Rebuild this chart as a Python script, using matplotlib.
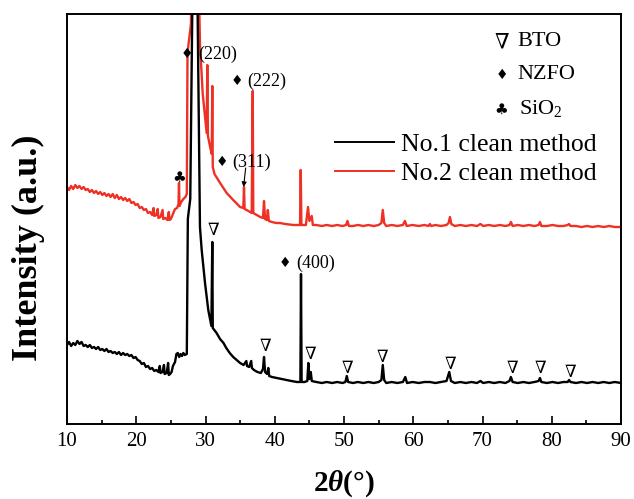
import matplotlib
matplotlib.use("Agg")
import matplotlib.pyplot as plt

# ---------------- data ----------------
no1_x = [10.0, 10.3, 10.6, 10.9, 11.2, 11.5, 11.8, 12.1, 12.4, 12.7, 13.0, 13.3, 13.6, 13.9, 14.2,
         14.5, 14.8, 15.1, 15.4, 15.7, 16.0, 16.3, 16.6, 16.9, 17.2, 17.5, 17.8, 18.1, 18.4, 18.7,
         19.0, 19.3, 19.6, 19.9, 20.2, 20.5, 20.8, 21.1, 21.4, 21.7, 22.0, 22.3, 22.6, 22.9, 23.2,
         23.4, 23.5, 23.8, 24.0, 24.1, 24.4, 24.6, 24.7, 24.9, 25.1, 25.3, 25.6, 25.8, 26.0, 26.2,
         26.4, 26.6, 26.8, 27.0, 27.3,
         27.45, 27.55, 27.8, 28.1, 28.5, 28.85, 29.2, 29.45, 29.93, 30.4, 30.85, 30.98, 31.05,
         31.6, 32.1, 32.6, 33.0, 33.5, 34.0, 34.5, 35.0, 35.5, 35.9, 36.0, 36.3, 36.6, 36.7, 37.0,
         37.5, 38.0, 38.3, 38.45, 38.6, 38.9, 39.07, 39.2, 39.6, 40.3, 41.0, 41.7, 42.4, 43.2,
         43.7, 43.79, 43.88, 44.3, 44.7, 44.85, 45.0, 45.2, 45.35,
         46.0, 46.8, 47.5, 48.3, 49.0, 49.8, 50.2, 50.4, 50.6, 51.3, 52.0, 52.8, 53.5, 54.3, 55.0,
         55.4, 55.6, 55.8, 56.1, 56.9, 57.7, 58.5, 58.85, 59.1, 59.9, 60.8, 61.6, 62.4, 63.2, 64.0,
         64.8, 65.2, 65.45, 66.0, 66.8, 67.6, 68.4, 69.2, 69.7, 70.1, 70.9, 71.7, 72.5, 73.3, 73.9,
         74.1, 74.35, 75.1, 75.9, 76.7, 77.5, 78.1, 78.3, 78.5, 79.3, 80.1, 80.9, 81.7, 82.3, 82.5,
         82.7, 83.5, 84.3, 85.1, 85.9, 86.7, 87.5, 88.3, 89.1, 90.0]
no1_y = [79, 82, 78, 81, 79, 83, 80, 82, 78, 79, 77, 79, 76, 77, 75,
         77, 74, 75, 73, 75, 72, 73, 71, 72, 70, 72, 69, 71, 69, 70,
         68, 69, 66, 67, 64, 63, 60, 61, 57, 58, 55, 56, 53, 54, 52,
         58, 51, 52, 59, 50, 51, 61, 49, 50, 52, 58, 62, 70, 71, 67,
         70, 68, 71, 69, 70,
         205, 211, 225, 420, 700, 420, 197, 174, 141, 114, 98, 182, 96,
         91, 85, 81, 76, 71, 67, 64, 61, 59, 63, 58, 57, 63, 56, 54,
         52, 51, 55, 67, 52, 50, 56, 48, 47, 46, 45, 44, 43, 42,
         42, 150, 42, 42, 43, 61, 45, 52, 43,
         42, 41, 42, 41, 42, 41, 42, 48, 42, 41, 42, 41, 42, 41, 42,
         44, 59, 44, 41, 42, 41, 42, 47, 41, 42, 41, 42, 42, 41, 42,
         43, 52, 43, 41, 42, 41, 42, 41, 43, 41, 42, 41, 42, 41, 43,
         47, 42, 41, 42, 41, 42, 43, 46, 42, 41, 42, 41, 42, 42, 44,
         42, 41, 42, 41, 42, 41, 42, 41, 42, 41]

no2_x = [10.0, 10.3, 10.6, 10.9, 11.2, 11.5, 11.8, 12.1, 12.4, 12.7, 13.0, 13.3, 13.6, 13.9, 14.2,
         14.5, 14.8, 15.1, 15.4, 15.7, 16.0, 16.3, 16.6, 16.9, 17.2, 17.5, 17.8, 18.1, 18.4, 18.7,
         19.0, 19.3, 19.6, 19.9, 20.2, 20.5, 20.8, 21.1, 21.4, 21.7, 22.0, 22.3, 22.5, 22.6, 22.9,
         23.1, 23.2, 23.5, 23.8, 23.9, 24.2, 24.5, 24.7, 24.8, 25.0, 25.3, 25.6, 25.9, 26.1, 26.17,
         26.25, 26.5, 26.8, 27.1, 27.3,
         27.4, 27.55, 27.9, 28.15, 28.5, 28.87, 29.2, 29.6, 30.17, 30.26, 30.35, 30.7, 30.9, 30.98,
         31.05, 31.3, 32.2, 33.06, 34.0, 35.0, 35.46, 35.56, 35.65, 36.2, 36.67, 36.82, 36.9, 37.4,
         37.9, 38.3, 38.45, 38.6, 38.84, 39.0, 39.15, 39.6, 40.2, 40.75, 41.5, 42.7, 43.65, 43.75,
         43.85, 44.5, 44.8, 45.0, 45.34, 45.5,
         46.0, 46.8, 47.5, 48.3, 49.0, 49.8, 50.3, 50.5, 50.7, 51.3, 52.0, 52.8, 53.5, 54.3, 55.0,
         55.4, 55.6, 55.8, 56.1, 56.9, 57.7, 58.5, 58.8, 59.05, 59.9, 60.8, 61.6, 62.2, 62.4, 62.6,
         63.2, 64.0, 64.8, 65.1, 65.3, 65.5, 66.0, 66.8, 67.6, 68.4, 69.2, 69.7, 70.1, 70.9, 71.7,
         72.5, 73.3, 73.9, 74.1, 74.35, 75.1, 75.9, 76.7, 77.5, 78.1, 78.3, 78.5, 79.3, 80.1, 80.9,
         81.7, 82.3, 82.5, 82.7, 83.5, 84.3, 85.1, 85.9, 86.7, 87.5, 88.3, 89.1, 90.0]
no2_y = [237, 234, 238, 235, 239, 236, 238, 235, 237, 234, 235, 232, 234, 231, 233,
         230, 232, 229, 231, 228, 230, 227, 230, 226, 229, 225, 227, 224, 226, 223,
         225, 221, 222, 219, 220, 216, 217, 214, 215, 211, 212, 209, 216, 208, 209,
         215, 206, 207, 214, 205, 206, 204, 212, 204, 205, 210, 215, 216, 220, 241,
         218, 222, 225, 227, 230,
         370, 380, 400, 500, 800, 500, 380, 330, 291, 359, 288, 276, 270, 338,
         257, 250, 240, 231, 224, 217, 216, 237, 215, 213, 211, 333, 211, 209,
         207, 206, 223, 205, 204, 214, 203, 202, 201, 201, 200, 199, 199, 254,
         199, 199, 217, 203, 208, 199,
         199, 198, 199, 198, 199, 198, 199, 203, 198, 198, 199, 198, 199, 198, 199,
         201, 214, 201, 198, 199, 198, 199, 203, 198, 199, 198, 199, 198, 200, 198,
         199, 198, 199, 201, 207, 200, 198, 199, 198, 199, 198, 200, 198, 199, 198,
         199, 198, 199, 202, 198, 199, 198, 199, 198, 199, 202, 198, 198, 199, 198,
         198, 199, 200, 198, 198, 197, 198, 197, 198, 197, 198, 197, 197]

series_labels = ["No.1 clean method", "No.2 clean method"]
series_colors = ["#000000", "#ee3124"]

# BTO (∇) marker positions
bto_x = [31.2, 38.7, 45.2, 50.5, 55.6, 65.3, 74.3, 78.4, 82.7]
bto_y = [194, 78, 70, 56, 67, 60, 56, 56, 52]

# NZFO (♦) annotations: diamond position, label start, label text
nzfo_dx = [27.27, 34.5, 32.34, 41.5]
nzfo_tx = [28.9, 36.1, 33.93, 43.07]
nzfo_y = [370, 343, 262, 161]
nzfo_labels = ["(220)", "(222)", "(311)", "(400)"]

# SiO2 (♣) annotation
sio2_x = [26.2]
sio2_y = [247]

# arrow for (311)
arrow_from = (35.8, 256)
arrow_to = (35.5, 237)

xticks = [10, 20, 30, 40, 50, 60, 70, 80, 90]

# ---------------- style ----------------
plt.rcParams['font.family'] = ['Liberation Serif', 'DejaVu Serif', 'DejaVu Sans']
plt.rcParams['mathtext.fontset'] = 'custom'
plt.rcParams['mathtext.rm'] = 'Liberation Serif'
plt.rcParams['mathtext.it'] = 'Liberation Serif:italic'
plt.rcParams['mathtext.bf'] = 'Liberation Serif:bold'
plt.rcParams['mathtext.bfit'] = 'Liberation Serif:bold:italic'

fig = plt.figure(figsize=(6.34, 4.99), dpi=100)
ax = fig.add_axes([67/634, 75/499, 554/634, 410/499])

ax.plot(no1_x, no1_y, color=series_colors[0], lw=1.7, label=series_labels[0], zorder=3)
ax.plot(no2_x, no2_y, color=series_colors[1], lw=1.7, label=series_labels[1], zorder=2)

ax.set_xlim(10, 90)
ax.set_ylim(0, 410)
ax.set_xticks(xticks)
ax.set_xticks(range(15, 90, 10), minor=True)
ax.set_yticks([])
ax.tick_params(axis='x', which='major', direction='in', length=6, width=1.2,
               labelsize=15, pad=6, top=False)
ax.tick_params(axis='x', which='minor', direction='in', length=3, width=1.2, top=False)
for s in ax.spines.values():
    s.set_linewidth(1.4)

ax.set_xlabel(r'$\mathbf{2}\mathbfit{\theta}$(°)', fontsize=21, fontweight='bold', labelpad=12)
ax.set_ylabel('Intensity (a.u.)', fontsize=26, fontweight='bold')
ax.yaxis.set_label_coords(-0.04, 0.43)

sym_fam = ['DejaVu Sans']
# BTO markers
for x, y in zip(bto_x, bto_y):
    ax.text(x, y, '∇', fontsize=12, family=['DejaVu Serif'], ha='center', va='center')
# NZFO annotations
for dx, tx, y, lab in zip(nzfo_dx, nzfo_tx, nzfo_y, nzfo_labels):
    ax.text(dx, y, '♦', fontsize=10, family=sym_fam, ha='center', va='center')
    ax.text(tx, y, lab, fontsize=13, ha='left', va='center')
for x, y in zip(sio2_x, sio2_y):
    ax.text(x, y, '♣', fontsize=11, family=sym_fam, ha='center', va='center')
ax.annotate('', xy=arrow_to, xytext=arrow_from,
            arrowprops=dict(arrowstyle='-|>', color='k', lw=0.8, mutation_scale=7,
                            shrinkA=0, shrinkB=0))

# symbol legend (top right)
ax.text(72.76, 382, '∇', fontsize=15, family=['DejaVu Serif'], ha='center', va='center')
ax.text(75.08, 382, 'BTO', fontsize=16, ha='left', va='center')
ax.text(72.76, 349, '♦', fontsize=10, family=sym_fam, ha='center', va='center')
ax.text(75.08, 349, 'NZFO', fontsize=16, ha='left', va='center')
ax.text(72.76, 315, '♣', fontsize=11, family=sym_fam, ha='center', va='center')
ax.text(75.27, 315, r'SiO$_2$', fontsize=16, ha='left', va='center')

leg = ax.legend(loc='center left', bbox_to_anchor=(0.4838, 0.6457), frameon=False,
                fontsize=18.5, handlelength=2.3, handletextpad=0.26, labelspacing=0.25,
                borderpad=0, borderaxespad=0)
for h in leg.get_lines():
    h.set_linewidth(1.4)

fig.savefig('out.png', dpi=100)
